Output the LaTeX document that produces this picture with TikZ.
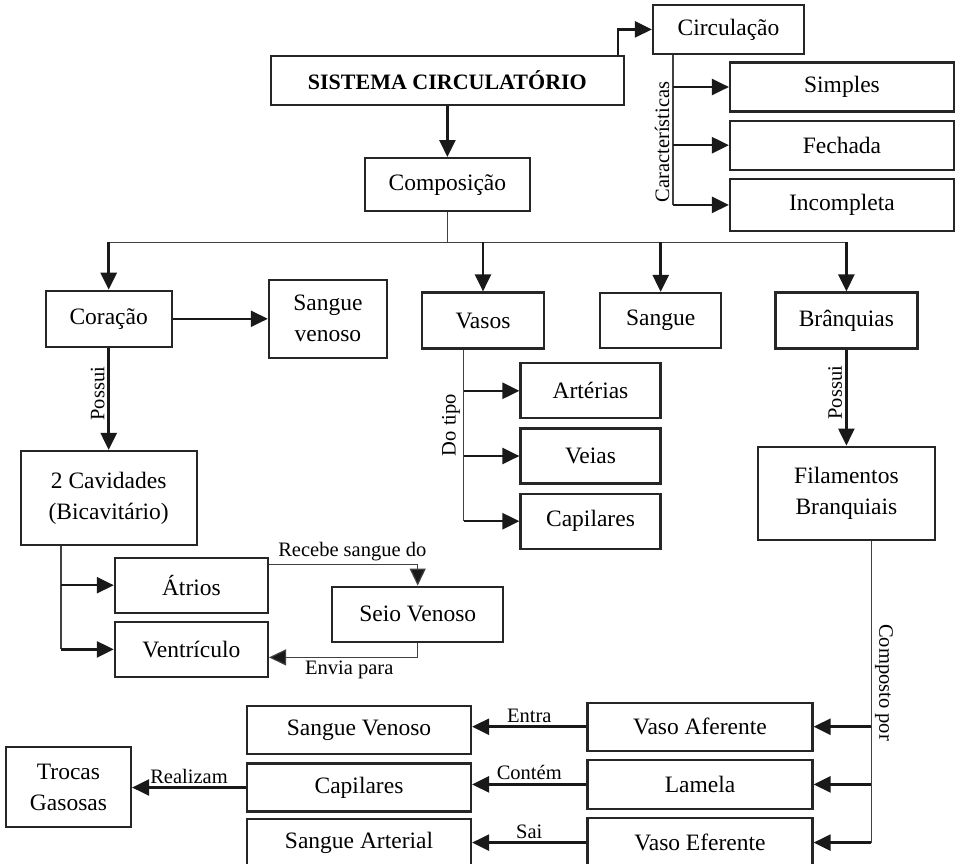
\documentclass[tikz,border=0pt]{standalone}
\usepackage{fontspec}
\setmainfont{Liberation Serif}
\usetikzlibrary{positioning}
\usetikzlibrary{arrows.meta}
\tikzset{
  box/.style={draw=black!85, line width=2.2pt, align=center, inner sep=0pt, font=\fontsize{23.5}{31}\selectfont},
  lbl/.style={font=\fontsize{20.5}{24}\selectfont, inner sep=3pt},
  arr/.style={line width=2.5pt, draw=black!90, -{Triangle[length=17pt,width=16pt]}},
  branch/.style={line width=1.2pt, draw=black!75},
  thinarr/.style={line width=1.2pt, draw=black!75, -{Triangle[length=17pt,width=16pt,fill=black!90]}},
}
\begin{document}
\begin{tikzpicture}[x=1pt,y=-1pt]
\useasboundingbox (0,0) rectangle (963,864);
\node[box, font=\bfseries\fontsize{22}{26}\selectfont, minimum width=353pt, minimum height=49pt](sis) at (447.4,80.4){SISTEMA CIRCULATÓRIO};
\node[box, minimum width=151pt, minimum height=49pt](circ) at (728.5,29.4){Circulação};
\node[box, minimum width=224pt, minimum height=49pt](simp) at (842,87){Simples};
\node[box, minimum width=224pt, minimum height=49pt, below=7pt of simp](fech){Fechada};
\node[box, minimum width=224pt, minimum height=52pt, below=7pt of fech](inc){Incompleta};
\node[box, minimum width=165pt, minimum height=53pt, below=51pt of sis](comp){Composição};
\node[box, minimum width=126pt, minimum height=56pt](cor) at (108.7,318.8){Coração};
\node[box, minimum width=118pt, minimum height=78pt, right=95pt of cor](sven){Sangue\\venoso};
\node[box, minimum width=122pt, minimum height=56pt](vas) at (483,320.5){Vasos};
\node[box, minimum width=121pt, minimum height=55pt, right=54pt of vas](sang){Sangue};
\node[box, minimum width=142pt, minimum height=56pt, right=52pt of sang](bra){Brânquias};
\node[box, minimum width=140pt, minimum height=55pt](art) at (590.5,390.8){Artérias};
\node[box, minimum width=140pt, minimum height=55pt, below=8pt of art](vei){Veias};
\node[box, minimum width=140pt, minimum height=55pt, below=8pt of vei](cap){Capilares};
\node[box, minimum width=176pt, minimum height=94pt, below=102pt of cor](cav){2 Cavidades\\(Bicavitário)};
\node[box, minimum width=177pt, minimum height=93pt, below=96pt of bra](fil){Filamentos\\Branquiais};
\node[box, minimum width=153pt, minimum height=55pt](atr) at (191.4,585.2){Átrios};
\node[box, minimum width=153pt, minimum height=55pt, below=7pt of atr](ven){Ventrículo};
\node[box, minimum width=171pt, minimum height=55pt](seio) at (417.7,614.2){Seio Venoso};
\node[box, minimum width=225pt, minimum height=48pt](afe) at (700,726.7){Vaso Aferente};
\node[box, minimum width=225pt, minimum height=49pt, below=7pt of afe](lam){Lamela};
\node[box, minimum width=225pt, minimum height=49pt, below=7pt of lam](efe){Vaso Eferente};
\node[box, minimum width=224pt, minimum height=48pt](sv2) at (359,730.3){Sangue Venoso};
\node[box, minimum width=224pt, minimum height=48pt, below=7pt of sv2](cap2){Capilares};
\node[box, minimum width=224pt, minimum height=49pt, below=5pt of cap2](sart){Sangue Arterial};
\node[box, minimum width=125pt, minimum height=80pt](troc) at (68.5,787.3){Trocas\\Gasosas};
\draw[arr] (sis) -- (comp);
\draw[arr] ([xshift=-7pt]sis.north east) |- (circ);
\coordinate (c1) at ([xshift=21pt]circ.south west);
\draw[branch] (c1) -- node[lbl, rotate=90, anchor=south, pos=0.58]{Características} (c1 |- inc);
\foreach \n in {simp,fech,inc} \draw[arr] (c1 |- \n) -- (\n);
\coordinate (bus) at ([yshift=-30pt]comp.south);
\draw[branch] (comp) -- (bus);
\draw[branch] (bus -| cor) -- (bus -| bra);
\foreach \n in {cor,vas,sang,bra} \draw[arr] (bus -| \n) -- (\n);
\draw[arr] (cor) -- (sven);
\draw[arr] (cor) -- node[lbl, rotate=90, anchor=south, pos=0.45]{Possui} (cav);
\draw[arr] (bra) -- node[lbl, rotate=90, anchor=south, pos=0.45]{Possui} (fil);
\coordinate (c2) at ([xshift=42.7pt]vas.south west);
\draw[branch] (c2) -- node[lbl, rotate=90, anchor=south, pos=0.44]{Do tipo} (c2 |- cap);
\foreach \n in {art,vei,cap} \draw[arr] (c2 |- \n) -- (\n);
\coordinate (c3) at ([xshift=41.3pt]cav.south west);
\draw[branch] (c3) -- (c3 |- ven);
\foreach \n in {atr,ven} \draw[arr] (c3 |- \n) -- (\n);
\draw[thinarr] ([yshift=-8pt]atr.north east) -| node[lbl, above, pos=0.28]{Recebe sangue do} (seio);
\draw[thinarr] (seio) |- node[lbl, below, pos=0.73]{Envia para} ([yshift=-8pt]ven.east);
\coordinate (c4) at ([xshift=25pt]fil.south);
\draw[branch] (c4) -- node[lbl, rotate=-90, anchor=south, pos=0.47]{Composto por} (c4 |- efe);
\foreach \n in {afe,lam,efe} \draw[arr] (c4 |- \n) -- (\n);
\draw[arr] (afe) -- node[lbl, above]{Entra} (afe -| sv2.east);
\draw[arr] (lam) -- node[lbl, above]{Contém} (lam -| cap2.east);
\draw[arr] (efe) -- node[lbl, above]{Sai} (efe -| sart.east);
\draw[arr] (cap2) -- node[lbl, above]{Realizam} (cap2 -| troc.east);
\end{tikzpicture}
\end{document}
